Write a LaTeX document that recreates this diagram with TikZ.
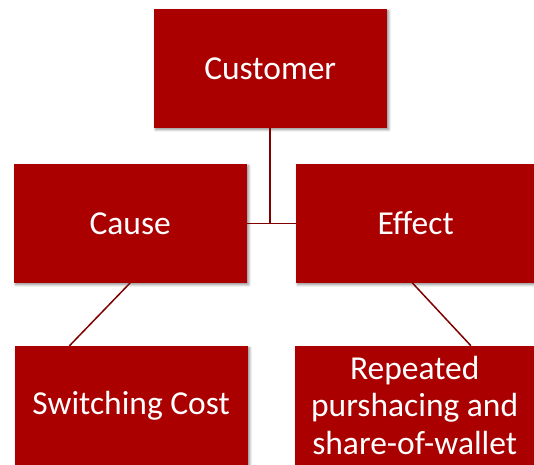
\documentclass[tikz,border=0pt]{standalone}
\usepackage{fontspec}
\setmainfont{Carlito}
\usetikzlibrary{shadows.blur}
\definecolor{boxred}{RGB}{170,0,0}
\definecolor{linkred}{RGB}{128,0,0}
\tikzset{box/.style={fill=boxred,text=white,minimum width=\boxw pt,minimum height=\boxh pt,inner sep=0pt,align=center,
    font=\fontsize{33.5}{37.5}\selectfont,
    blur shadow={shadow xshift=2pt,shadow yshift=-2pt,shadow blur steps=6,shadow blur radius=2.5pt,shadow opacity=45}}}
\tikzset{link/.style={draw=linkred,line width=1.5pt}}

\begin{document}
\begin{tikzpicture}[x=1pt,y=-1pt]
      \pgfmathsetmacro{\boxw}{233}
      \pgfmathsetmacro{\boxh}{118.7}
      \useasboundingbox (0,0) rectangle (534,464);
      \clip (0,0) rectangle (534,464);
      \node[box] (customer) at (270.2,68.3) {Customer};
      \node[box] (cause) at (130.2,223.3) {Cause};
      \node[box,minimum width=240pt] (effect) at (415.7,223.3) {Effect};
      \node[box] (switching) at (131.2,405.3) {Switching Cost};
      \node[box,minimum width=240pt] (repeated) at (414.7,405.3) {Repeated\\pursha\-cing and\\share-of-wallet};
      \draw[link] (cause.east) -- (effect.west);
      \draw[link] (customer.south) -- (customer.south |- cause.east);
      \draw[link] (cause.south) -- ([xshift=55pt]switching.north west);
      \draw[link] ([xshift=-3.4pt]effect.south) -- ([xshift=-64pt]repeated.north east);
    \end{tikzpicture}
\end{document}
